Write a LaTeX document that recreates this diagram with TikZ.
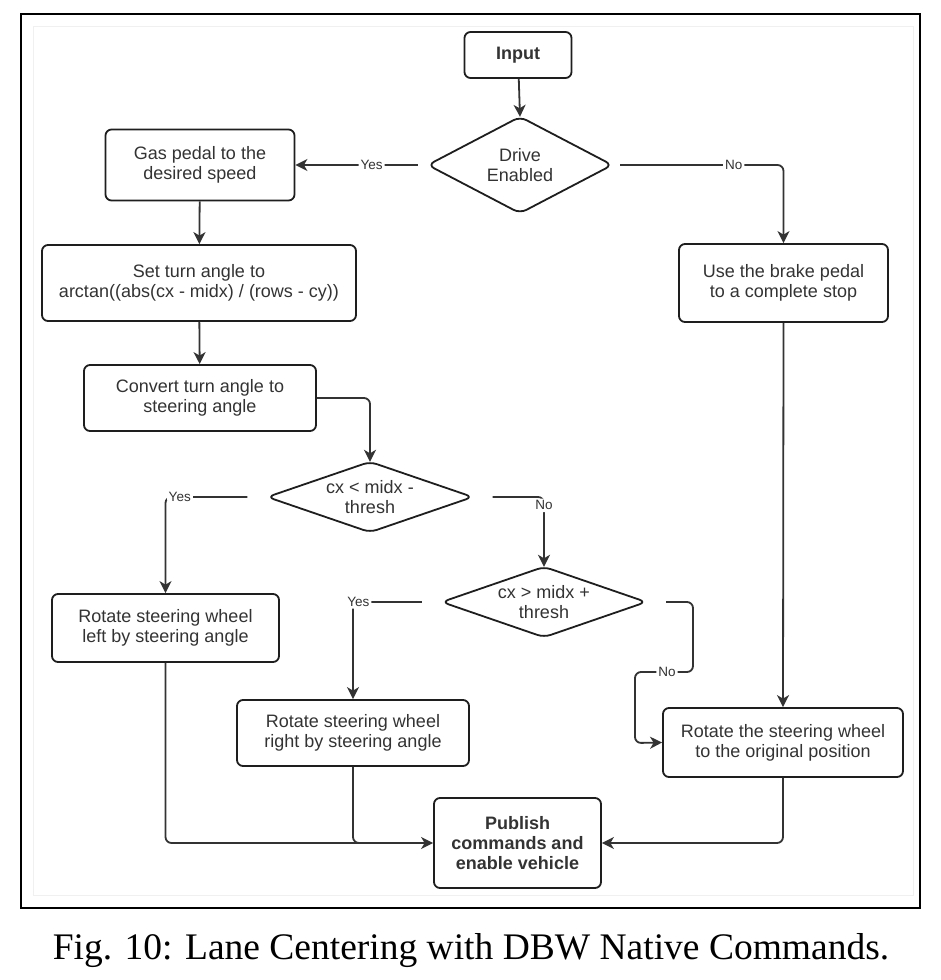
\documentclass[tikz,border=0pt]{standalone}
\usepackage{fontspec}
\setmainfont{Liberation Sans}
\newfontfamily\capfont{Liberation Serif}
\usetikzlibrary{arrows.meta}
\definecolor{ln}{HTML}{333333}
\definecolor{bx}{HTML}{1E1E1E}
\tikzset{
  box/.style={draw=bx,line width=1.8pt,rounded corners=6pt,align=center,
    font=\fontsize{18}{20}\selectfont,text=ln,inner sep=0pt},
  dia/.style={align=center,font=\fontsize{18}{20}\selectfont,text=ln,inner sep=0pt},
  diaborder/.style={draw=bx,line width=1.8pt,rounded corners=7pt},
  conn/.style={draw=ln,line width=1.8pt,rounded corners=6pt,
    -{Stealth[length=12pt,width=12pt,inset=3.5pt]}},
  plain/.style={draw=ln,line width=1.8pt,rounded corners=6pt},
  lbl/.style={fill=white,font=\fontsize{13.5}{15}\selectfont,text=ln,inner sep=2pt}
}
\begin{document}
\begin{tikzpicture}[x=1pt,y=-1pt]
\useasboundingbox[fill=white] (0,0) rectangle (940,980);
\draw[gray!12,line width=1pt] (33,26) rectangle (913,895);
\draw[black,line width=1.5pt] (21,14) rectangle (920,908);

\node[box,minimum width=107pt,minimum height=46pt,font=\fontsize{18}{20}\selectfont\bfseries] (in) at (518,55) {Input};
\node[dia,minimum width=184pt,minimum height=96pt] (de) at (520,165) {Drive\\Enabled};
\node[box,minimum width=189pt,minimum height=71pt] (gas) at (200,165) {Gas pedal to the\\desired speed};
\node[box,minimum width=209pt,minimum height=78pt] (brk) at (783.5,283) {Use the brake pedal\\to a complete stop};
\node[box,minimum width=314pt,minimum height=76pt] (st) at (199,283) {Set turn angle to\\arctan((abs(cx - midx) / (rows - cy))};
\node[box,minimum width=232pt,minimum height=66pt] (cv) at (200,398) {Convert turn angle to\\steering angle};
\node[dia,minimum width=205pt,minimum height=70pt] (d1) at (370,497) {cx < midx -\\thresh};
\node[box,minimum width=227pt,minimum height=68pt] (rl) at (165.5,628) {Rotate steering wheel\\left by steering angle};
\node[dia,minimum width=204pt,minimum height=70pt] (d2) at (544,602) {cx > midx +\\thresh};
\node[box,minimum width=232pt,minimum height=66pt] (rr) at (353,733) {Rotate steering wheel\\right by steering angle};
\node[box,minimum width=240pt,minimum height=69pt] (ro) at (783,742.5) {Rotate the steering wheel\\to the original position};
\node[box,minimum width=167pt,minimum height=90pt,font=\fontsize{18}{20}\selectfont\bfseries] (pub) at (517.5,843) {Publish\\commands and\\enable vehicle};

\draw[diaborder] (de.north) -- (de.east) -- (de.south) -- (de.west) -- cycle;
\draw[diaborder] (d1.north) -- (d1.east) -- (d1.south) -- (d1.west) -- cycle;
\draw[diaborder] (d2.north) -- (d2.east) -- (d2.south) -- (d2.west) -- cycle;

\coordinate (c1) at (783.5,165);
\coordinate (c2) at (370,398);
\coordinate (c3) at (693,602);
\coordinate (c4) at (693,672);
\coordinate (c5) at (635,672);
\coordinate (c6) at (635,743);

\draw[conn] (in) -- (de.north);
\draw[conn,shorten <=10pt] (de.west) -- (gas.east) node[lbl,pos=0.425] {Yes};
\draw[conn,shorten <=8pt] (de.east) -- (c1) node[lbl,pos=0.71] {No} -- (brk.north);
\draw[conn] (gas) -- (st);
\draw[conn] (st) -- (cv);
\draw[conn] (cv.east) -- (c2) -- (d1.north);
\draw[conn,shorten <=20pt] (d1.west) -| (rl.north) node[lbl,pos=0.43] {Yes};
\draw[conn,shorten <=20pt] (d1.east) -| (d2.north) node[lbl,pos=0.56] {No};
\draw[conn,shorten <=20pt] (d2.west) -| (rr.north) node[lbl,pos=0.47] {Yes};
\draw[conn,shorten <=20pt] (d2.east) -- (c3) -- (c4) -- (c5) node[lbl,pos=0.45] {No} -- (c6) -- (ro.west);
\draw[conn] (brk.south) -- (ro.north);
\draw[conn] (rl.south) |- (pub.west);
\draw[plain] (rr.south) |- ([xshift=-30pt]pub.west);
\draw[conn] (ro.south) |- (pub.east);

\node[font=\capfont\fontsize{37.5}{40}\selectfont,anchor=base] (cap) at (471,959) {Fig. 10: Lane Centering with DBW Native Commands.};
\end{tikzpicture}
\end{document}
